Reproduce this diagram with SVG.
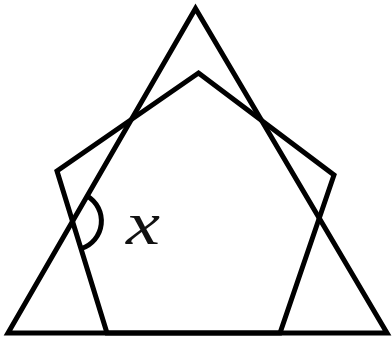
<svg xmlns="http://www.w3.org/2000/svg" width="392" height="342" viewBox="0 0 392 342">
<style>
.ln{fill:none;stroke:#000;stroke-width:5;stroke-linejoin:miter;stroke-miterlimit:10}
.lbl{font-family:"Liberation Serif","DejaVu Serif",serif;font-style:italic;font-size:62px;fill:#111}
</style>
<rect width="392" height="342" fill="#fff"/>
<g id="triangle"><polygon class="ln" points="195.5,8.5 8,333 387,333"/></g>
<g id="pentagon"><polygon class="ln" points="198.5,73 334,175 280,333 107,333 57,171"/></g>
<g id="angle"><path class="ln" d="M86.9,195.9 A29,29 0 0 1 81,248.7"/></g>
<g id="label"><text class="lbl" x="126" y="244" textLength="34" lengthAdjust="spacingAndGlyphs">x</text></g>
</svg>
